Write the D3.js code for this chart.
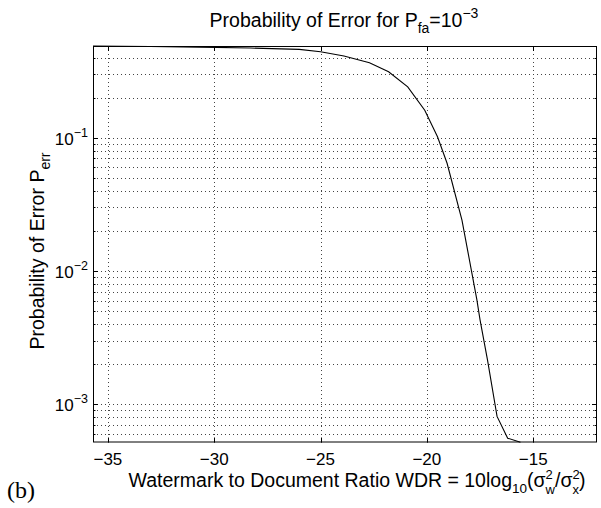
<!DOCTYPE html>
<html>
<head>
<meta charset="utf-8">
<script src="https://cdn.jsdelivr.net/npm/d3@7"></script>
<style>
  body { margin: 0; background: #fff; }
  svg { display: block; font-family: "Liberation Sans", Arial, sans-serif; }
</style>
</head>
<body>
<svg id="chart" width="601" height="508"></svg>
<script>
// Curve: WDR (dB) vs probability of error
const wdr = [-35.7, -33, -30.7, -28.3, -26, -25, -23.9, -22.7, -21.8, -20.9,
  -20.1, -19.5, -19.05, -18.35, -17.65, -17.5, -17.15, -16.7, -16.2, -15.6];
const perr = [0.488, 0.484, 0.479, 0.471, 0.46, 0.442, 0.41, 0.366, 0.313, 0.241,
  0.161, 0.1017, 0.0643, 0.0241, 0.0061, 0.0043, 0.00215, 0.00081, 0.000556, 0.000519];

const xTicks = [-35, -30, -25, -20, -15];
const yMajor = [1e-3, 1e-2, 1e-1];
const yExp = ["−3", "−2", "−1"];

const svg = d3.select("#chart");
const m = { left: 93, top: 46, right: 597, bottom: 442.5 };

const x = d3.scaleLinear().domain([-35.7, -12]).range([m.left, m.right]);
const y = d3.scaleLog().domain([5.16e-4, 0.488]).range([m.bottom, m.top]);

const grid = svg.append("g")
  .attr("stroke", "#444")
  .attr("stroke-width", 1)
  .attr("stroke-dasharray", "1,3");

// vertical grid at major x ticks
grid.selectAll("line.gx")
  .data(xTicks)
  .join("line")
  .attr("x1", (d) => Math.round(x(d)) + 0.5)
  .attr("x2", (d) => Math.round(x(d)) + 0.5)
  .attr("y1", m.top)
  .attr("y2", m.bottom);

// horizontal grid at every log tick (1..9 x 10^k)
const yAll = y.ticks();
grid.selectAll("line.gy")
  .data(yAll)
  .join("line")
  .attr("x1", m.left)
  .attr("x2", m.right)
  .attr("y1", (d) => Math.round(y(d)) + 0.5)
  .attr("y2", (d) => Math.round(y(d)) + 0.5);

// ticks, inside, on all four sides
const ticks = svg.append("g").attr("stroke", "#000").attr("stroke-width", 1);
xTicks.forEach((d) => {
  const px = Math.round(x(d)) + 0.5;
  ticks.append("line").attr("x1", px).attr("x2", px).attr("y1", m.bottom).attr("y2", m.bottom - 5);
  ticks.append("line").attr("x1", px).attr("x2", px).attr("y1", m.top).attr("y2", m.top + 5);
});
yAll.forEach((d) => {
  const py = Math.round(y(d)) + 0.5;
  const major = yMajor.some((v) => Math.abs(v - d) / v < 1e-6);
  const len = major ? 5 : 2.5;
  ticks.append("line").attr("x1", m.left).attr("x2", m.left + len).attr("y1", py).attr("y2", py);
  ticks.append("line").attr("x1", m.right).attr("x2", m.right - len).attr("y1", py).attr("y2", py);
});

// curve
const line = d3.line()
  .x((d, i) => x(wdr[i]))
  .y((d, i) => y(perr[i]));
svg.append("path")
  .datum(perr)
  .attr("fill", "none")
  .attr("stroke", "#000")
  .attr("stroke-width", 1.1)
  .attr("d", line);

// frame
svg.append("rect")
  .attr("x", m.left + 0.5)
  .attr("y", m.top + 0.5)
  .attr("width", m.right - m.left - 1)
  .attr("height", m.bottom - m.top - 1)
  .attr("fill", "none")
  .attr("stroke", "#000")
  .attr("stroke-width", 1);

// x tick labels
svg.append("g")
  .selectAll("text")
  .data(xTicks)
  .join("text")
  .attr("x", (d) => x(d))
  .attr("y", 465)
  .attr("text-anchor", "middle")
  .attr("font-size", 17)
  .text((d) => "−" + Math.abs(d));

// y tick labels 10^k
const yl = svg.append("g")
  .selectAll("text")
  .data(yMajor)
  .join("text")
  .attr("x", 88)
  .attr("y", (d) => y(d) + 7)
  .attr("text-anchor", "end")
  .attr("font-size", 17);
yl.append("tspan").text("10");
yl.append("tspan").attr("font-size", 12.5).attr("dy", -8).text((d, i) => yExp[i]);

// title
const title = svg.append("text")
  .attr("x", 344)
  .attr("y", 27)
  .attr("text-anchor", "middle")
  .attr("font-size", 19.5);
title.append("tspan").text("Probability of Error for P");
title.append("tspan").attr("font-size", 14).attr("dy", 6).text("fa");
title.append("tspan").attr("dy", -6).text("=10");
title.append("tspan").attr("font-size", 14).attr("dy", -9).text("−3");

// x label
const xl = svg.append("text")
  .attr("x", 357)
  .attr("y", 487)
  .attr("text-anchor", "middle")
  .attr("font-size", 19.5);
xl.append("tspan").text("Watermark to Document Ratio WDR = 10log");
xl.append("tspan").attr("font-size", 13.5).attr("dy", 6).text("10");
xl.append("tspan").attr("dy", -6).text("(σ");
xl.append("tspan").attr("font-size", 13).attr("dy", -8).text("2");
xl.append("tspan").attr("font-size", 13).attr("dx", -7.2).attr("dy", 15).text("w");
xl.append("tspan").attr("dy", -7).text("/σ");
xl.append("tspan").attr("font-size", 13).attr("dy", -8).text("2");
xl.append("tspan").attr("font-size", 13).attr("dx", -7.2).attr("dy", 15).text("x");
xl.append("tspan").attr("dy", -7).text(")");

// y label
const ylab = svg.append("text")
  .attr("transform", "translate(44,251) rotate(-90)")
  .attr("text-anchor", "middle")
  .attr("font-size", 19.5);
ylab.append("tspan").text("Probability of Error P");
ylab.append("tspan").attr("font-size", 14).attr("dy", 6).text("err");

// panel tag
svg.append("text")
  .attr("x", 7)
  .attr("y", 498)
  .attr("font-family", "'Liberation Serif', 'Times New Roman', serif")
  .attr("font-size", 24)
  .text("(b)");
</script>
</body>
</html>
